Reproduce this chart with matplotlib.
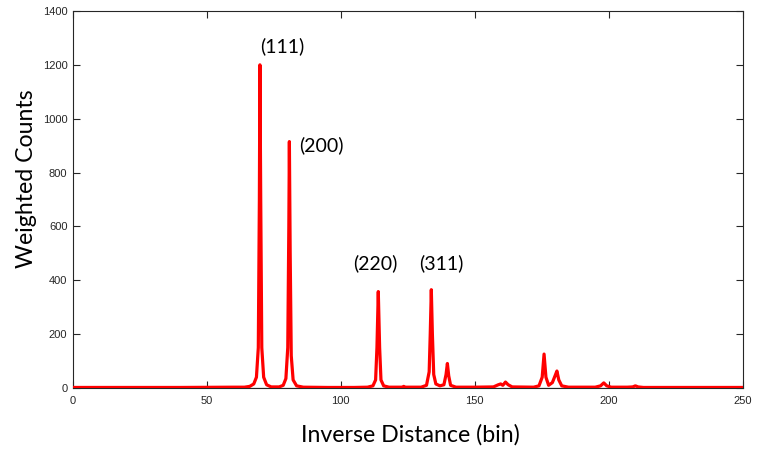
import numpy as np
import matplotlib
matplotlib.use("Agg")
import matplotlib.pyplot as plt

# Radial distribution histogram: inverse distance bin vs weighted counts
bins = [0, 20, 40, 60, 64, 66, 67.5, 68.5, 69.2, 69.6, 69.8, 70.1, 70.5, 71.2, 72.3, 74,
        77, 78.5, 79.5, 80.2, 80.6, 80.8, 81.1, 81.5, 82.2, 83.5, 86,
        95, 105, 110, 112, 113, 113.5, 114.0, 114.5, 115, 116, 118,
        123, 123.5, 124, 130, 132, 133, 133.4, 133.8, 134.2, 134.7, 135.5, 137,
        138.5, 139.3, 139.8, 140.3, 141, 143, 150, 157, 158.8, 159.7, 160.5, 161.5, 162.5, 164,
        172, 174, 175.2, 175.9, 176.6, 177.6, 179, 180, 180.7, 181.4, 182.5, 185,
        195, 197, 198.2, 199.3, 201, 207, 209, 210, 211, 213, 230, 250]
counts = [2, 2, 2, 3, 3, 6, 15, 40, 150, 700, 1200, 700, 150, 40, 12, 4,
          4, 10, 35, 150, 600, 915, 500, 120, 30, 8, 3,
          2, 2, 3, 8, 30, 150, 358, 150, 30, 8, 3,
          3, 6, 3, 3, 10, 60, 200, 365, 200, 50, 15, 8,
          12, 50, 91, 45, 10, 3, 3, 4, 12, 15, 10, 22, 12, 4,
          3, 8, 40, 126, 40, 10, 20, 45, 63, 30, 8, 3,
          3, 8, 19, 8, 3, 3, 4, 8, 4, 2, 2, 2]

peak_labels = ["(111)", "(200)", "(220)", "(311)"]
label_x = [78.2, 92.6, 113.0, 137.4]
label_y = [1270, 900, 462, 462]

fig = plt.figure(figsize=(7.65, 4.51), dpi=100)
ax = fig.add_axes([0.0954, 0.1397, 0.8752, 0.8359])

ax.axhline(0, color="#b0b0b0", lw=1.0, zorder=1)
ax.plot(bins, counts, color="#ff0000", lw=2.3, solid_joinstyle="round", zorder=3)

ax.set_xlim(0, 250)
ax.set_ylim(0, 1400)
ax.set_xticks([0, 50, 100, 150, 200, 250])
ax.set_yticks(np.arange(0, 1401, 200))

tick_font = {"family": ["Liberation Sans", "DejaVu Sans"], "size": 8}
ax.set_xticklabels([str(v) for v in [0, 50, 100, 150, 200, 250]], fontdict=tick_font)
ax.set_yticklabels([str(v) for v in range(0, 1401, 200)], fontdict=tick_font)
ax.tick_params(direction="in", length=5, width=0.8, color="#262626", labelcolor="#262626",
               top=True, right=True)
ax.tick_params(axis="x", pad=6)
ax.tick_params(axis="y", pad=4)
for side in ["left", "top", "right", "bottom"]:
    ax.spines[side].set_color("#262626")
    ax.spines[side].set_linewidth(0.8)

label_font = ["Lato", "DejaVu Sans"]
ax.set_xlabel("Inverse Distance (bin)", fontsize=16.7, family=label_font)
ax.set_ylabel("Weighted Counts", fontsize=16.7, family=label_font)
ax.xaxis.set_label_coords(0.5045, -0.125)
ax.yaxis.set_label_coords(-0.069, 0.554)
ax.xaxis.label.set_va("center")
ax.yaxis.label.set_va("center")

for txt, x, y in zip(peak_labels, label_x, label_y):
    ax.text(x, y, txt, fontsize=14, family=label_font, ha="center", va="center")

fig.savefig("out.png", dpi=100)
